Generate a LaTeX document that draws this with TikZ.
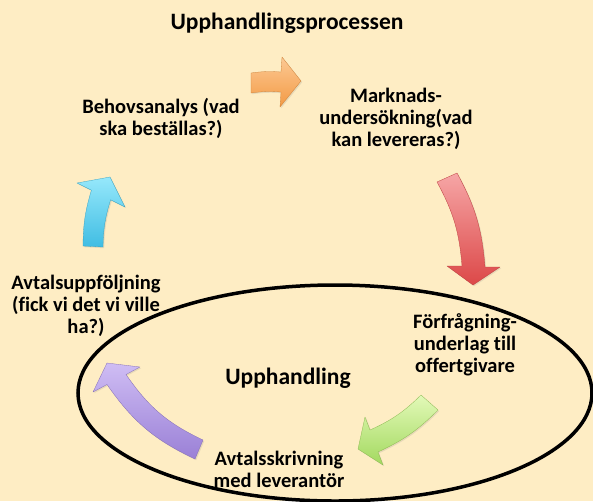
\documentclass[tikz,border=0pt]{standalone}
\usepackage{fontspec}
\setmainfont[Ligatures=NoCommon]{Carlito}
\usetikzlibrary{shadows}
\definecolor{paper}{HTML}{FEEDC4}
\definecolor{orangeA}{HTML}{FCC994}
\definecolor{orangeB}{HTML}{F39A44}
\definecolor{redA}{HTML}{F6A6A6}
\definecolor{redB}{HTML}{DC4848}
\definecolor{greenA}{HTML}{E2F9B8}
\definecolor{greenB}{HTML}{A3D95F}
\definecolor{purpleA}{HTML}{CFBDF4}
\definecolor{purpleB}{HTML}{9A80D6}
\definecolor{cyanA}{HTML}{96E8FB}
\definecolor{cyanB}{HTML}{40BDE3}
\tikzset{
  heading/.style={font=\bfseries\fontsize{23.5}{26}\selectfont, inner sep=0pt},
  stage/.style={font=\bfseries\fontsize{20.5}{22}\selectfont, align=center, inner sep=0pt},
  bigarrow/.style 2 args={top color=#1, bottom color=#2, draw=#2!85!black, line width=0.3pt, line join=round,
    drop shadow={opacity=0.18, shadow xshift=1.2pt, shadow yshift=-1.2pt}},
  phase/.style={draw=black, line width=3.5pt}
}

\begin{document}
\begin{tikzpicture}[x=1pt, y=1pt]
  \useasboundingbox (0,0) rectangle (593,-501);
  \fill[paper] (0,0) rectangle (593,-501);

  % the procurement part of the cycle
  \draw[phase] (335,-393) ellipse [x radius=257, y radius=108];

  % arrows of the cycle
  \path[bigarrow={orangeA}{orangeB}] (251,-93) to[bend left=6] (281,-92) -- (280,-107) -- (301,-81)
    -- (282,-57) -- (281,-72) to[bend right=6] (251,-73) -- cycle;
  \path[bigarrow={redA}{redB}] (437,-182) to[bend left=12] (462,-266) -- (447,-266) -- (473,-285)
    -- (500,-267) -- (485,-267) to[bend right=12] (457,-173) -- cycle;
  \path[bigarrow={greenA}{greenB}] (421,-395) to[bend left=10] (370,-430) -- (365,-417) -- (358,-449)
    -- (383,-465) -- (378,-452) to[bend right=10] (438,-410) -- cycle;
  \path[bigarrow={purpleA}{purpleB}] (203,-440) to[bend left=15] (126,-374.5) -- (140,-367) -- (107,-363)
    -- (93,-392) -- (107,-384.5) to[bend right=15] (195,-459) -- cycle;
  \path[bigarrow={cyanA}{cyanB}] (103,-247) to[bend left=8] (110.6,-199.8) -- (125,-207) -- (110,-177)
    -- (77,-183) -- (91.4,-190.2) to[bend right=8] (83,-246) -- cycle;

  % texts
  \node[heading] (title) at (287,-23) {Upphandlingsprocessen};
  \node[stage] (behov) at (161,-118) {Behovsanalys (vad\\ska beställas?)};
  \node[stage] (marknad) at (396,-118.5) {Marknads-\\undersökning(vad\\kan levereras?)};
  \node[stage] (forfr) at (465,-344.5) {Förfrågning-\\underlag till\\offertgivare};
  \node[heading] (upph) at (288,-378) {Upphandling};
  \node[stage] (avtal) at (279,-469) {Avtalsskrivning\\med leverantör};
  \node[stage] (uppf) at (86,-305.5) {Avtalsuppföljning\\(fick vi det vi ville\\ha?)};
\end{tikzpicture}
\end{document}
